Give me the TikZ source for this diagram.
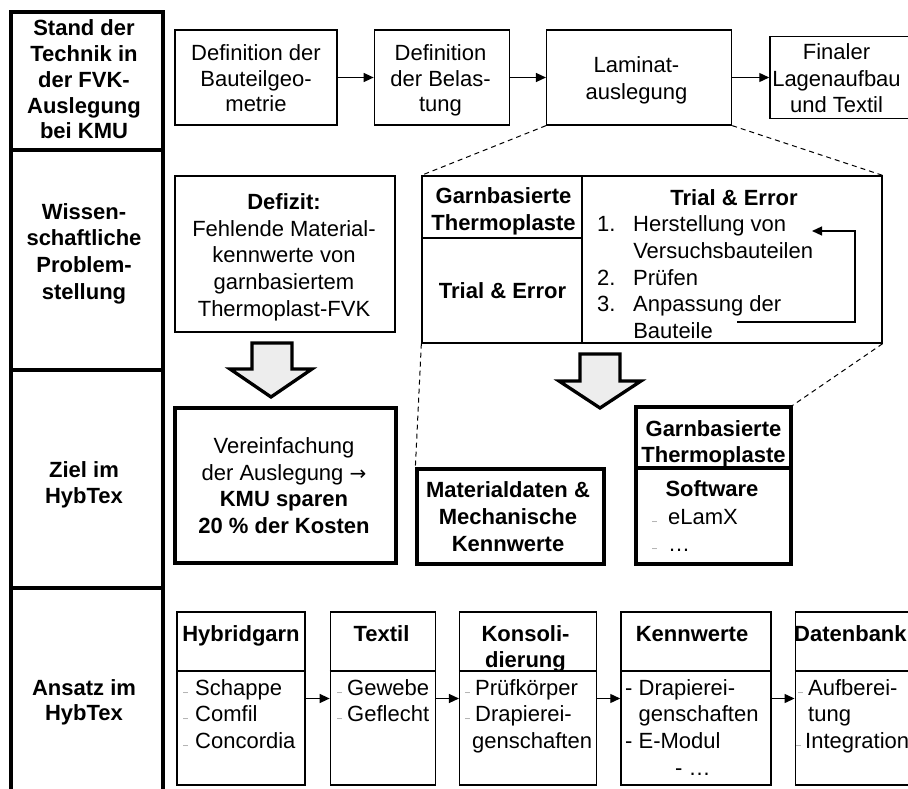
\documentclass[tikz,border=0pt]{standalone}
\usepackage{fontspec}
\setmainfont{Liberation Sans}
\newfontfamily\symfont{DejaVu Sans}
\usetikzlibrary{arrows.meta,positioning}

\newcommand{\stack}[2][c]{\begin{tabular}[t]{@{}#1@{}}#2\end{tabular}}
\newcommand{\dsh}{\textcolor{gray}{\fontsize{9}{9}\selectfont –}}
\newcommand{\rarr}{{\symfont\fontsize{20}{20}\selectfont →}}

\begin{document}
\begin{tikzpicture}[x=1pt, y=-1pt, >={Triangle[length=10pt,width=9pt]},
    every node/.style={inner sep=0pt},
    cell/.style={draw, line width=3.3pt, minimum width=152pt},
    box/.style={draw, line width=1.3pt},
    bbox/.style={draw, line width=3.3pt},
    lbl/.style={anchor=base, font=\fontsize{22}{#1}\selectfont}, lbl/.default=26.7,
    blbl/.style={anchor=base, font=\fontsize{22}{#1}\selectfont\bfseries}, blbl/.default=26.7,
    dashline/.style={line width=1pt, dash pattern=on 5pt off 4pt},
    bigarrow/.style={draw, line width=3.3pt, fill=black!7, line join=miter}]
    \useasboundingbox (0,0) rectangle (908,789);
    \clip (0,0) rectangle (908,789);

    % left column
    \node[cell, minimum height=138pt] (c1) at (87,81) {};
    \node[cell, minimum height=220pt] (c2) at (87,260) {};
    \node[cell, minimum height=218pt] (c3) at (87,479) {};
    \node[cell, minimum height=224pt] (c4) at (87,700) {};
    \node[blbl=25.75] (c1-t) at (84,36) {\stack{Stand der\\Technik in\\der FVK-\\Auslegung\\bei KMU}};
    \node[blbl] (c2-t) at (84,219.3) {\stack{Wissen-\\schaftliche\\Problem-\\stellung}};
    \node[blbl=26] (c3-t) at (84,477.3) {\stack{Ziel im\\HybTex}};
    \node[blbl=25.7] (c4-t) at (84,695) {\stack{Ansatz im\\HybTex}};

    % state of the art
    \node[box, minimum width=162pt, minimum height=95pt] (geo) at (256,77.5) {};
    \node[box, minimum width=135pt, minimum height=95pt, right=36pt of geo] (bel) {};
    \node[box, minimum width=185pt, minimum height=95pt, right=36pt of bel] (lam) {};
    \node[box, minimum width=141pt, minimum height=82pt, right=37pt of lam] (fin) {};
    \node[lbl=25.5] (geo-t) at (256,61) {\stack{Definition der\\Bauteilgeo-\\metrie}};
    \node[lbl=25.5] (bel-t) at (440.5,61) {\stack{Definition\\der Belas-\\tung}};
    \node[lbl=26.5] (lam-t) at (636.5,73) {\stack{Laminat-\\auslegung}};
    \node[lbl=26.5] (fin-t) at (836.5,60) {\stack{Finaler\\Lagenaufbau\\und Textil}};
    \path[->, line width=1.3pt]
        (geo) edge (bel)
        (bel) edge (lam)
        (lam) edge (fin);

    % problem
    \node[box, minimum width=220pt, minimum height=156pt] (def) at (285,254) {};
    \node[lbl] (def-t) at (284,209.3) {\stack{\textbf{Defizit:}\\Fehlende Material-\\kennwerte von\\garnbasiertem\\Thermoplast-FVK}};

    \node[box, minimum width=160pt, minimum height=62pt] (gt) at (502,207) {};
    \node[box, minimum width=160pt, minimum height=105pt] (te) at (502,290.5) {};
    \node[box, minimum width=300pt, minimum height=167pt] (tr) at (732,259.5) {};
    \node[blbl] (gt-t) at (503.5,204) {\stack{Garnbasierte\\Thermoplaste}};
    \node[blbl] (te-t) at (502.5,298.3) {Trial \& Error};
    \node[blbl] (tr-t) at (734,205) {Trial \& Error};
    \node[lbl, anchor=base west] (tr-l) at (597,231.7)
        {\begin{tabular}[t]{@{}l@{\hspace{17.7pt}}l@{}}
        1. & Herstellung von\\ & Versuchsbauteilen\\ 2. & Prüfen\\ 3. & Anpassung der\\ & Bauteile
        \end{tabular}};
    \coordinate (fbA) at (737,322);
    \coordinate (fbB) at (812,231);
    \coordinate (fbC) at (855,231);
    \draw[->, line width=1.3pt] (fbA) -| (fbC) -- (fbB);

    % goal
    \draw[bigarrow] (252,343) -- (292,343) -- (292,369) -- (312,369) -- (271,397) -- (230,369) -- (252,369) -- cycle;
    \draw[bigarrow] (580,354) -- (620,354) -- (620,381) -- (641,381) -- (600,408) -- (559,381) -- (580,381) -- cycle;

    \node[bbox, minimum width=221pt, minimum height=155pt] (ver) at (285.5,485.5) {};
    \node[lbl] (ver-t) at (284,453.3) {\stack{Vereinfachung\\der Auslegung \rarr\\\textbf{KMU sparen}\\\textbf{20 \% der Kosten}}};

    \node[bbox, minimum width=187pt, minimum height=95pt] (mat) at (510.5,516.5) {};
    \node[blbl=27] (mat-t) at (508,497.7) {\stack{Materialdaten \&\\Mechanische\\Kennwerte}};

    \node[bbox, minimum width=155pt, minimum height=61pt] (gth) at (713.5,437.5) {};
    \node[bbox, minimum width=155pt, minimum height=96pt] (sw) at (713.5,516) {};
    \node[blbl=26] (gth-t) at (713.5,436.7) {\stack{Garnbasierte\\Thermoplaste}};
    \node[blbl] (sw-t) at (712,496.7) {Software};
    \node[lbl=27.4, anchor=base west] (sw-l) at (652,524.3) {\stack[l]{\dsh\hspace{11pt}eLamX\\\dsh\hspace{11pt}…}};

    \draw[dashline]
        (lam.south west) -- (gt.north west)
        (lam.south east) -- (tr.north east)
        (te.south west) -- (mat.north west)
        (tr.south east) -- (gth.north east);

    % approach
    \node[box, minimum width=128pt, minimum height=173pt] (hyb) at (241,698.5) {};
    \node[box, minimum width=105pt, minimum height=173pt, right=24pt of hyb] (tex) {};
    \node[box, minimum width=137pt, minimum height=173pt, right=23pt of tex] (kon) {};
    \node[box, minimum width=150pt, minimum height=173pt, right=23pt of kon] (kenn) {};
    \node[box, minimum width=128pt, minimum height=173pt, right=23pt of kenn] (db) {};
    \coordinate (hdr) at (0,671);
    \draw[line width=1.3pt]
        (hyb.west |- hdr) -- (hyb.east |- hdr)
        (tex.west |- hdr) -- (tex.east |- hdr)
        (kon.west |- hdr) -- (kon.east |- hdr)
        (kenn.west |- hdr) -- (kenn.east |- hdr)
        (db.west |- hdr) -- (db.east |- hdr);
    \path[->, line width=1.3pt]
        (hyb) edge (tex)
        (tex) edge (kon)
        (kon) edge (kenn)
        (kenn) edge (db);

    \node[blbl] (hyb-t) at (241,641) {Hybridgarn};
    \node[blbl] (tex-t) at (381.5,641) {Textil};
    \node[blbl] (kon-t) at (525.5,641) {\stack{Konsoli-\\dierung}};
    \node[blbl] (kenn-t) at (692,641) {Kennwerte};
    \node[blbl, anchor=base west] (db-t) at (794,641) {Datenbank};

    \node[lbl, anchor=base west] (hyb-l) at (183,695) {\stack[l]{\dsh\hspace{7pt}Schappe\\\dsh\hspace{7pt}Comfil\\\dsh\hspace{7pt}Concordia}};
    \node[lbl, anchor=base west] (tex-l) at (337,695) {\stack[l]{\dsh\hspace{5pt}Gewebe\\\dsh\hspace{5pt}Geflecht}};
    \node[lbl, anchor=base west] (kon-l) at (465,695) {\stack[l]{\dsh\hspace{5pt}Prüfkörper\\\dsh\hspace{5pt}Drapierei-\\\hspace{7pt}genschaften}};
    \node[lbl, anchor=base west] (kenn-l) at (625,695) {\stack[l]{- Drapierei-\\\phantom{- }genschaften\\- E-Modul\\\hspace{50pt}- …}};
    \node[lbl, anchor=base west] (db-l) at (798,695) {\stack[l]{\dsh\hspace{5pt}Aufberei-\\\hspace{10pt}tung\\\hspace{-2pt}\dsh\hspace{4pt}Integration}};
\end{tikzpicture}
\end{document}
